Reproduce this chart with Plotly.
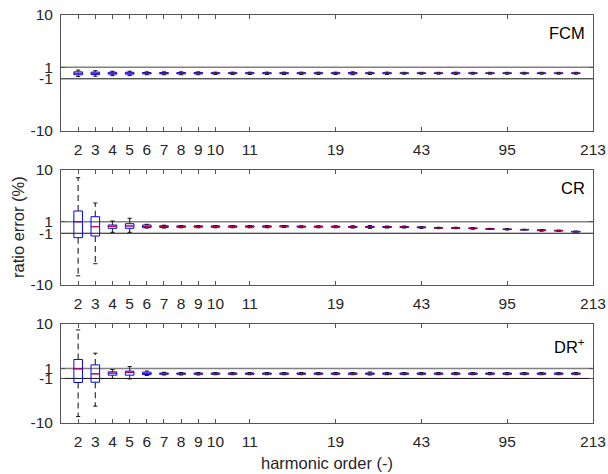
import plotly.graph_objects as go

# ---------------- data ----------------
positions = list(range(30))
tick_positions = [0, 1, 2, 3, 4, 5, 6, 7, 8, 10, 15, 20, 25, 30]
tick_labels = ["2", "3", "4", "5", "6", "7", "8", "9", "10", "11", "19", "43", "95", "213"]
panel_names = ["FCM", "CR", "DR<sup>+</sup>"]

# FCM
fcm_lo = [-0.6, -0.55, -0.45, -0.45, -0.3, -0.3, -0.3, -0.3, -0.25, -0.25, -0.25, -0.25, -0.25, -0.25, -0.25,
          -0.25, -0.3, -0.25, -0.25, -0.2, -0.2, -0.2, -0.25, -0.2, -0.2, -0.2, -0.2, -0.2, -0.2, -0.2]
fcm_q1 = [-0.3, -0.25, -0.2, -0.2, -0.15, -0.15, -0.15, -0.15, -0.12, -0.12, -0.12, -0.12, -0.12, -0.12, -0.12,
          -0.12, -0.15, -0.12, -0.12, -0.1, -0.1, -0.1, -0.12, -0.1, -0.1, -0.1, -0.1, -0.1, -0.1, -0.1]
fcm_med = [-0.05, -0.05, -0.05, -0.05, -0.05, -0.05, -0.05, -0.05, -0.05, -0.05, -0.05, -0.05, -0.05, -0.05, -0.05,
           -0.05, -0.05, -0.05, -0.05, -0.05, -0.05, -0.05, -0.05, -0.05, -0.05, -0.05, -0.05, -0.05, -0.05, -0.05]
fcm_q3 = [0.2, 0.15, 0.12, 0.12, 0.08, 0.08, 0.08, 0.08, 0.05, 0.05, 0.05, 0.05, 0.05, 0.05, 0.05,
          0.05, 0.08, 0.05, 0.05, 0.03, 0.03, 0.03, 0.05, 0.03, 0.03, 0.03, 0.03, 0.03, 0.03, 0.03]
fcm_hi = [0.5, 0.4, 0.3, 0.3, 0.2, 0.2, 0.2, 0.2, 0.15, 0.15, 0.15, 0.15, 0.15, 0.15, 0.15,
          0.15, 0.2, 0.15, 0.15, 0.12, 0.12, 0.12, 0.15, 0.12, 0.12, 0.12, 0.12, 0.12, 0.12, 0.12]

# CR
cr_lo = [-8.4, -6.3, -0.84, -0.84, -0.1, -0.1, -0.05, -0.05, -0.05, -0.05, -0.05, -0.05, 0.0, -0.05, -0.05,
         -0.05, -0.1, -0.15, -0.1, -0.1, -0.15, -0.2, -0.2, -0.3, -0.35, -0.45, -0.45, -0.65, -0.7, -0.8]
cr_q1 = [-1.77, -1.48, -0.14, -0.14, -0.03, 0.02, 0.04, 0.05, 0.05, 0.05, 0.05, 0.05, 0.1, 0.06, 0.06,
         0.05, 0.0, 0.0, 0.0, 0.0, -0.05, -0.12, -0.15, -0.2, -0.3, -0.35, -0.42, -0.55, -0.6, -0.78]
cr_med = [1.0, 0.14, 0.2, 0.26, 0.2, 0.17, 0.17, 0.17, 0.17, 0.17, 0.17, 0.17, 0.2, 0.14, 0.14,
          0.14, 0.09, 0.09, 0.09, 0.09, 0.03, -0.06, -0.09, -0.14, -0.26, -0.32, -0.38, -0.49, -0.55, -0.72]
cr_q3 = [2.87, 1.88, 0.43, 0.66, 0.43, 0.3, 0.28, 0.28, 0.28, 0.28, 0.28, 0.28, 0.3, 0.24, 0.24,
         0.24, 0.2, 0.2, 0.18, 0.18, 0.1, 0.0, -0.04, -0.08, -0.2, -0.26, -0.34, -0.42, -0.5, -0.66]
cr_hi = [8.66, 4.26, 1.13, 1.6, 0.55, 0.4, 0.35, 0.35, 0.35, 0.35, 0.35, 0.35, 0.35, 0.3, 0.3,
         0.3, 0.3, 0.35, 0.25, 0.25, 0.15, 0.05, 0.05, 0.0, -0.15, -0.18, -0.3, -0.35, -0.45, -0.62]

# DR+
dr_lo = [-8.7, -6.6, -1.0, -1.1, -0.4, -0.3, -0.3, -0.3, -0.25, -0.25, -0.25, -0.25, -0.25, -0.25, -0.25,
         -0.25, -0.25, -0.3, -0.25, -0.25, -0.25, -0.25, -0.25, -0.25, -0.25, -0.25, -0.25, -0.25, -0.25, -0.25]
dr_q1 = [-1.82, -1.76, -0.34, -0.34, -0.2, -0.15, -0.15, -0.15, -0.15, -0.15, -0.15, -0.15, -0.15, -0.15, -0.15,
         -0.15, -0.15, -0.15, -0.15, -0.15, -0.15, -0.15, -0.15, -0.15, -0.15, -0.15, -0.15, -0.15, -0.15, -0.15]
dr_med = [0.95, -0.08, 0.07, 0.2, 0.0, -0.05, -0.05, -0.05, -0.05, -0.05, -0.05, -0.05, -0.05, -0.05, -0.05,
          -0.05, -0.05, -0.05, -0.05, -0.05, -0.05, -0.05, -0.05, -0.05, -0.05, -0.05, -0.05, -0.05, -0.05, -0.05]
dr_q3 = [2.84, 1.74, 0.33, 0.47, 0.27, 0.1, 0.1, 0.1, 0.1, 0.1, 0.1, 0.1, 0.1, 0.1, 0.1,
         0.1, 0.1, 0.1, 0.1, 0.1, 0.1, 0.1, 0.1, 0.1, 0.1, 0.1, 0.1, 0.1, 0.1, 0.1]
dr_hi = [8.8, 4.1, 0.8, 1.4, 0.5, 0.25, 0.2, 0.2, 0.2, 0.2, 0.2, 0.2, 0.2, 0.2, 0.2,
         0.2, 0.2, 0.3, 0.2, 0.2, 0.2, 0.2, 0.2, 0.2, 0.2, 0.2, 0.2, 0.2, 0.2, 0.2]

panels = [
    (fcm_lo, fcm_q1, fcm_med, fcm_q3, fcm_hi),
    (cr_lo, cr_q1, cr_med, cr_q3, cr_hi),
    (dr_lo, dr_q1, dr_med, dr_q3, dr_hi),
]

# ---------------- layout helpers ----------------
W, H = 608, 474
x_left, x_right = 61, 593
panel_px = [(15, 131), (170, 285), (324, 423)]  # top, bottom in px
label_px_y = [33, 188, 346]

FONT = "Liberation Sans, Arial, sans-serif"
AXC = "#555555"

fig = go.Figure()

box_half = 0.25
cap_half = 0.12

for k, (lo, q1, med, q3, hi) in enumerate(panels):
    xa = "x" if k == 0 else f"x{k+1}"
    ya = "y" if k == 0 else f"y{k+1}"
    # whiskers (dashed black)
    wx, wy = [], []
    for i, p in enumerate(positions):
        wx += [p, p, None, p, p, None]
        wy += [q3[i], hi[i], None, q1[i], lo[i], None]
    fig.add_trace(go.Scatter(x=wx, y=wy, mode="lines", xaxis=xa, yaxis=ya,
                             line=dict(color="#333333", width=1.2, dash="6px,4px"),
                             hoverinfo="skip", showlegend=False))
    # caps
    cx, cy = [], []
    for i, p in enumerate(positions):
        cx += [p - cap_half, p + cap_half, None, p - cap_half, p + cap_half, None]
        cy += [hi[i], hi[i], None, lo[i], lo[i], None]
    fig.add_trace(go.Scatter(x=cx, y=cy, mode="lines", xaxis=xa, yaxis=ya,
                             line=dict(color="#111111", width=1),
                             hoverinfo="skip", showlegend=False))
    # boxes
    fig.add_trace(go.Box(x=positions, q1=q1, median=med, q3=q3,
                         lowerfence=q1, upperfence=q3,
                         width=2 * box_half, xaxis=xa, yaxis=ya,
                         line=dict(color="#0000FF", width=1),
                         fillcolor="rgba(0,0,0,0)", whiskerwidth=0,
                         hoverinfo="skip", showlegend=False))
    # medians (red)
    mx, my = [], []
    for i, p in enumerate(positions):
        mx += [p - box_half, p + box_half, None]
        my += [med[i], med[i], None]
    fig.add_trace(go.Scatter(x=mx, y=my, mode="lines", xaxis=xa, yaxis=ya,
                             line=dict(color="rgba(255,0,0,0.7)", width=1.2),
                             hoverinfo="skip", showlegend=False))

layout = dict(
    width=W, height=H,
    margin=dict(l=0, r=0, t=0, b=0, autoexpand=False),
    paper_bgcolor="white", plot_bgcolor="white",
    font=dict(family=FONT, size=15, color="#262626"),
    showlegend=False,
    annotations=[], shapes=[],
)

for k in range(3):
    top, bot = panel_px[k]
    xkey = "xaxis" if k == 0 else f"xaxis{k+1}"
    ykey = "yaxis" if k == 0 else f"yaxis{k+1}"
    yname = "y" if k == 0 else f"y{k+1}"
    xname = "x" if k == 0 else f"x{k+1}"
    layout[xkey] = dict(
        domain=[x_left / W, x_right / W], range=[-1, 30], anchor=yname,
        tickmode="array", tickvals=tick_positions, ticktext=tick_labels,
        ticks="inside", ticklen=4, tickcolor=AXC, tickwidth=1,
        showline=True, linecolor=AXC, linewidth=1, mirror="ticks",
        showgrid=False, zeroline=False, ticklabelstandoff=4, automargin=False,
        tickfont=dict(size=15.5, color="#262626"),
    )
    layout[ykey] = dict(
        domain=[1 - bot / H, 1 - top / H], range=[-10, 10], anchor=xname,
        tickmode="array", tickvals=[-10, -1, 1, 10], ticktext=["-10", "-1", "1", "10"],
        ticks="inside", ticklen=4, tickcolor=AXC, tickwidth=1,
        showline=True, linecolor=AXC, linewidth=1, mirror="ticks",
        showgrid=False, zeroline=False, ticklabelstandoff=4, automargin=False,
        tickfont=dict(size=15.5, color="#262626"),
    )
    # reference lines at +/-1
    layout["shapes"].append(dict(type="line", xref=f"{xname} domain", yref=yname,
                                 x0=0, x1=1, y0=1, y1=1, line=dict(color="#808080", width=1.5), layer="below"))
    layout["shapes"].append(dict(type="line", xref=f"{xname} domain", yref=yname,
                                 x0=0, x1=1, y0=-1, y1=-1, line=dict(color="#111111", width=1), layer="below"))
    layout["annotations"].append(dict(
        text=panel_names[k], xref="paper", yref="paper",
        x=587 / W, y=1 - label_px_y[k] / H, xanchor="right", yanchor="middle",
        showarrow=False, font=dict(size=16.5, color="#000000")))

layout["annotations"].append(dict(
    text="ratio error (%)", xref="paper", yref="paper", x=18 / W, y=1 - 227 / H,
    xanchor="center", yanchor="middle", textangle=-90, showarrow=False,
    font=dict(size=16.5, color="#262626")))
layout["annotations"].append(dict(
    text="harmonic order (-)", xref="paper", yref="paper", x=327 / W, y=1 - 463 / H,
    xanchor="center", yanchor="middle", showarrow=False,
    font=dict(size=16.5, color="#262626")))

fig.update_layout(**layout)
fig.write_html("out.html")
